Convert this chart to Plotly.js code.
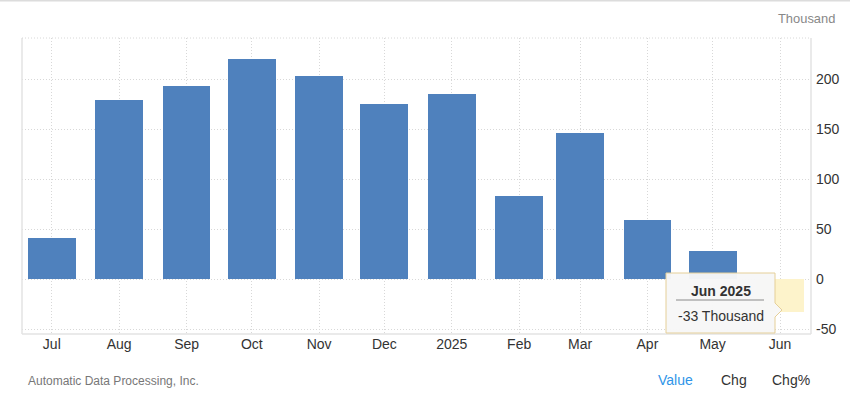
<!DOCTYPE html>
<html>
<head>
<meta charset="utf-8">
<script src="https://cdn.plot.ly/plotly-3.0.1.min.js"></script>
<style>
html,body{margin:0;padding:0;background:#fff;}
#chart{width:850px;height:403px;}
</style>
</head>
<body>
<div id="chart"></div>
<script>
// Data
const months = ["2024-07-01","2024-08-01","2024-09-01","2024-10-01","2024-11-01","2024-12-01",
                "2025-01-01","2025-02-01","2025-03-01","2025-04-01","2025-05-01","2025-06-01"];
const tickLabels = ["Jul","Aug","Sep","Oct","Nov","Dec","2025","Feb","Mar","Apr","May","Jun"];
const values = [41, 179, 193, 220, 203, 175, 185, 83, 146, 59, 28, -33];
const yTicks = [-50, 0, 50, 100, 150, 200];
const unit = "Thousand";
const hoverLabel = "Jun 2025";

const n = values.length;
const barColors = values.map((v, i) => i === n - 1 ? "#fdf3cb" : "#4f81bd");
const day = 86400000;

const trace = {
  type: "bar",
  x: months,
  y: values,
  width: months.map(() => 22 * day),
  marker: {color: barColors, line: {width: 0}},
  hoverinfo: "skip"
};

// plot area in px: left 22, right 811, top 38, bottom 334
const L = 22, R = 811, T = 38, B = 334;
const px = x => (x - L) / (R - L);
const py = y => (B - y) / (B - T);

const tipPath = [
  "M", px(666), py(273),
  "L", px(775), py(273),
  "L", px(775), py(303),
  "L", px(782), py(310),
  "L", px(775), py(317),
  "L", px(775), py(333),
  "L", px(666), py(333), "Z"
].join(" ");

const layout = {
  width: 850, height: 403,
  margin: {l: L, r: 850 - R, t: T, b: 403 - B, pad: 0},
  paper_bgcolor: "#ffffff",
  plot_bgcolor: "#ffffff",
  showlegend: false,
  bargap: 0,
  font: {family: "Liberation Sans, Arial, sans-serif", color: "#333333", size: 14},
  xaxis: {
    type: "date",
    range: ["2024-06-17 07:00", "2025-06-15 06:00"],
    tickvals: months,
    ticktext: tickLabels,
    showgrid: true,
    gridcolor: "#d8d8d8",
    griddash: "1px,2px",
    gridwidth: 1,
    zeroline: false,
    showline: false,
    ticks: "",
    tickfont: {size: 14, color: "#333333"},
    fixedrange: true
  },
  yaxis: {
    side: "right",
    range: [-54.7, 241.3],
    tickvals: yTicks,
    ticktext: yTicks.map(String),
    showgrid: true,
    gridcolor: "#d8d8d8",
    griddash: "1px,2px",
    gridwidth: 1,
    zeroline: false,
    showline: false,
    ticks: "",
    ticklabelstandoff: 4,
    tickfont: {size: 14, color: "#333333"},
    fixedrange: true
  },
  shapes: [
    // top page rule
    {type: "line", xref: "paper", yref: "paper", x0: px(0), x1: px(850), y0: py(0.5), y1: py(0.5),
     line: {color: "#dcdcdc", width: 2}},
    // plot borders
    {type: "line", xref: "paper", yref: "paper", x0: 0, x1: 0, y0: 0, y1: 1, line: {color: "#e3e3e3", width: 1.5}},
    {type: "line", xref: "paper", yref: "paper", x0: 1, x1: 1, y0: 0, y1: 1, line: {color: "#e3e3e3", width: 1.5}},
    {type: "line", xref: "paper", yref: "paper", x0: 0, x1: 1, y0: 0, y1: 0, line: {color: "#e3e3e3", width: 1.5}},
    {type: "line", xref: "paper", yref: "paper", x0: 0, x1: 1, y0: 1, y1: 1, line: {color: "#d8d8d8", width: 1, dash: "1px,2px"}},
    // tooltip
    {type: "path", xref: "paper", yref: "paper", path: tipPath,
     fillcolor: "rgba(247,247,247,0.97)", line: {color: "#e5cf98", width: 1}},
    {type: "line", xref: "paper", yref: "paper", x0: px(676), x1: px(764), y0: py(300), y1: py(300),
     line: {color: "#8a8a8a", width: 1}}
  ],
  annotations: [
    {xref: "paper", yref: "paper", x: px(837), y: py(18), xanchor: "right", yanchor: "middle",
     text: unit, showarrow: false, font: {size: 12.9, color: "#888888"}},
    {xref: "paper", yref: "paper", x: px(26), y: py(381), xanchor: "left", yanchor: "middle",
     text: "Automatic Data Processing, Inc.", showarrow: false, font: {size: 12, color: "#777777"}},
    {xref: "paper", yref: "paper", x: px(675.5), y: py(380), xanchor: "center", yanchor: "middle",
     text: "Value", showarrow: false, font: {size: 14, color: "#2f95e8"}},
    {xref: "paper", yref: "paper", x: px(733.5), y: py(380), xanchor: "center", yanchor: "middle",
     text: "Chg", showarrow: false, font: {size: 14, color: "#333333"}},
    {xref: "paper", yref: "paper", x: px(791), y: py(380), xanchor: "center", yanchor: "middle",
     text: "Chg%", showarrow: false, font: {size: 14, color: "#333333"}},
    {xref: "paper", yref: "paper", x: px(720.5), y: py(290.5), xanchor: "center", yanchor: "middle",
     text: "<b>" + hoverLabel + "</b>", showarrow: false, font: {size: 14, color: "#333333"}},
    {xref: "paper", yref: "paper", x: px(720.5), y: py(316), xanchor: "center", yanchor: "middle",
     text: values[n - 1] + " " + unit, showarrow: false, font: {size: 14, color: "#333333"}}
  ]
};

Plotly.newPlot("chart", [trace], layout, {displayModeBar: false, staticPlot: true});
</script>
</body>
</html>
